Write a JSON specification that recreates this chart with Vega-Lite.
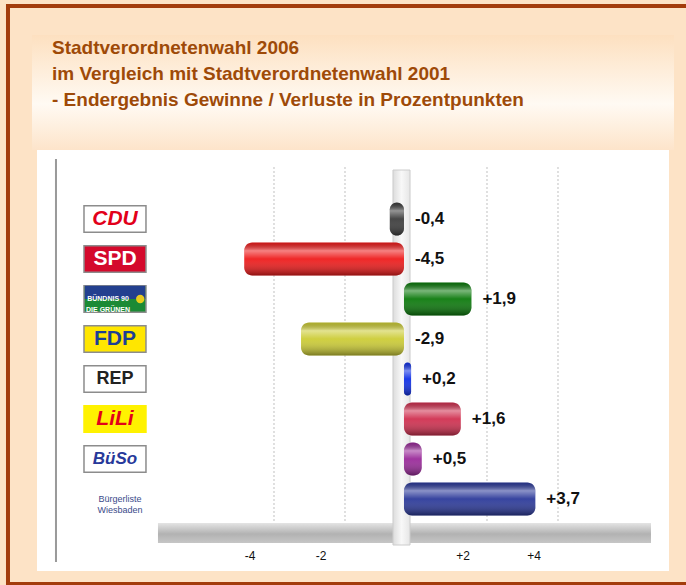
{
  "$schema": "https://vega.github.io/schema/vega-lite/v6.json",
  "width": 686,
  "height": 585,
  "autosize": {"type": "none"},
  "padding": 0,
  "background": "#fde3c6",
  "config": {
    "view": {"stroke": null},
    "font": "Liberation Sans",
    "axis": {"disable": true},
    "legend": {"disable": true}
  },
  "title": {
    "text": ["Stadtverordnetenwahl 2006", "im Vergleich mit Stadtverordnetenwahl 2001", "- Endergebnis Gewinne / Verluste in Prozentpunkten"],
    "anchor": "start",
    "frame": "group",
    "orient": "top",
    "offset": -110,
    "dx": 52,
    "fontSize": 19,
    "font": "Liberation Sans",
    "fontWeight": "bold",
    "color": "#9e4a08",
    "lineHeight": 26
  },
  "datasets": {
    "parties": [
      {"party": "CDU", "value": -0.4, "label": "-0,4", "logo": "CDU"},
      {"party": "SPD", "value": -4.5, "label": "-4,5", "logo": "SPD"},
      {"party": "GRÜNE", "value": 1.9, "label": "+1,9", "logo": "BÜNDNIS 90\nDIE GRÜNEN"},
      {"party": "FDP", "value": -2.9, "label": "-2,9", "logo": "FDP"},
      {"party": "REP", "value": 0.2, "label": "+0,2", "logo": "REP"},
      {"party": "LiLi", "value": 1.6, "label": "+1,6", "logo": "LiLi"},
      {"party": "BüSo", "value": 0.5, "label": "+0,5", "logo": "BüSo"},
      {"party": "Bürgerliste", "value": 3.7, "label": "+3,7", "logo": "Bürgerliste\nWiesbaden"}
    ],
    "ticks": [
      {"tick": -4, "label": "-4"},
      {"tick": -2, "label": "-2"},
      {"tick": 2, "label": "+2"},
      {"tick": 4, "label": "+4"}
    ]
  },
  "resolve": {"scale": {"y": "independent", "fill": "independent", "stroke": "independent", "color": "independent"}},
  "layer": [
    {
      "data": {"values": [{}]},
      "mark": {"type": "rect", "fill": null, "stroke": "#a33c0c", "strokeWidth": 4},
      "encoding": {
        "x": {"datum": -11.155, "type": "quantitative", "scale": {"domain": [-11.38, 7.944], "nice": false, "zero": false}},
        "x2": {"datum": 8.338},
        "y": {"datum": 6, "type": "quantitative", "scale": {"domain": [0, 585], "reverse": true, "nice": false, "zero": false}},
        "y2": {"datum": 584}
      }
    },
    {
      "data": {"values": [{}]},
      "mark": {"type": "rect", "fill": {"x1": 0, "y1": 0, "x2": 0, "y2": 1, "gradient": "linear", "stops": [{"offset": 0, "color": "#fde0c0"}, {"offset": 0.6, "color": "#fffaf3"}, {"offset": 1, "color": "#fde4ca"}]}},
      "encoding": {
        "x": {"datum": -10.479, "type": "quantitative", "scale": {"domain": [-11.38, 7.944], "nice": false, "zero": false}},
        "x2": {"datum": 7.606},
        "y": {"datum": 35, "type": "quantitative", "scale": {"domain": [0, 585], "reverse": true, "nice": false, "zero": false}},
        "y2": {"datum": 150}
      }
    },
    {
      "data": {"values": [{}]},
      "mark": {"type": "rect", "fill": "#ffffff"},
      "encoding": {
        "x": {"datum": -10.338, "type": "quantitative", "scale": {"domain": [-11.38, 7.944], "nice": false, "zero": false}},
        "x2": {"datum": 7.465},
        "y": {"datum": 150, "type": "quantitative", "scale": {"domain": [0, 585], "reverse": true, "nice": false, "zero": false}},
        "y2": {"datum": 571}
      }
    },
    {
      "data": {"values": [{}]},
      "mark": {"type": "rule", "stroke": "#9a9a9a", "strokeWidth": 2},
      "encoding": {
        "x": {"datum": -9.803, "type": "quantitative", "scale": {"domain": [-11.38, 7.944], "nice": false, "zero": false}},
        "y": {"datum": 159, "type": "quantitative", "scale": {"domain": [0, 585], "reverse": true, "nice": false, "zero": false}},
        "y2": {"datum": 562}
      }
    },
    {
      "data": {"name": "ticks"},
      "mark": {"type": "rule", "stroke": "#c0c0c0", "strokeWidth": 1, "strokeDash": [2, 2], "xOffset": 12},
      "encoding": {
        "x": {"field": "tick", "type": "quantitative", "scale": {"domain": [-11.38, 7.944], "nice": false, "zero": false}},
        "y": {"datum": 167, "type": "quantitative", "scale": {"domain": [0, 585], "reverse": true, "nice": false, "zero": false}},
        "y2": {"datum": 523}
      }
    },
    {
      "data": {"values": [{}]},
      "mark": {"type": "rect", "fill": {"x1": 0, "y1": 0, "x2": 0, "y2": 1, "gradient": "linear", "stops": [{"offset": 0, "color": "#e4e4e4"}, {"offset": 0.55, "color": "#b2b2b2"}, {"offset": 1, "color": "#c6c6c6"}]}},
      "encoding": {
        "x": {"datum": -6.93, "type": "quantitative", "scale": {"domain": [-11.38, 7.944], "nice": false, "zero": false}},
        "x2": {"datum": 6.958},
        "y": {"datum": 523, "type": "quantitative", "scale": {"domain": [0, 585], "reverse": true, "nice": false, "zero": false}},
        "y2": {"datum": 543}
      }
    },
    {
      "data": {"values": [{}]},
      "mark": {"type": "rect", "stroke": "#cccccc", "strokeWidth": 1, "fill": {"x1": 0, "y1": 0, "x2": 1, "y2": 0, "gradient": "linear", "stops": [{"offset": 0, "color": "#dcdcdc"}, {"offset": 0.5, "color": "#f8f8f8"}, {"offset": 1, "color": "#e6e6e6"}]}},
      "encoding": {
        "x": {"datum": -0.31, "type": "quantitative", "scale": {"domain": [-11.38, 7.944], "nice": false, "zero": false}},
        "x2": {"datum": 0.17},
        "y": {"datum": 170, "type": "quantitative", "scale": {"domain": [0, 585], "reverse": true, "nice": false, "zero": false}},
        "y2": {"datum": 545}
      }
    },
    {
      "data": {"name": "ticks"},
      "mark": {"type": "text", "fontSize": 12, "color": "#111111", "dx": -12, "baseline": "middle"},
      "encoding": {
        "x": {"field": "tick", "type": "quantitative", "scale": {"domain": [-11.38, 7.944], "nice": false, "zero": false}},
        "y": {"datum": 556, "type": "quantitative", "scale": {"domain": [0, 585], "reverse": true, "nice": false, "zero": false}},
        "text": {"field": "label"}
      }
    },
    {
      "data": {"name": "parties"},
      "mark": {"type": "bar", "orient": "horizontal", "cornerRadius": 8},
      "encoding": {
        "x": {"field": "value", "type": "quantitative", "scale": {"domain": [-11.38, 7.944], "nice": false, "zero": false}},
        "x2": {"datum": 0},
        "y": {"field": "party", "type": "nominal", "sort": null, "scale": {"type": "band", "domain": ["CDU", "SPD", "GRÜNE", "FDP", "REP", "LiLi", "BüSo", "Bürgerliste"], "range": [202.5, 515.5], "paddingInner": 0.175, "paddingOuter": 0}},
        "fill": {"field": "party", "type": "nominal", "scale": {"domain": ["CDU", "SPD", "GRÜNE", "FDP", "REP", "LiLi", "BüSo", "Bürgerliste"], "range": ["#3c3c3c", "#ee1c1c", "#0c7a0c", "#cccc36", "#1030e6", "#d03050", "#9a2a9a", "#2c3a9a"]}}
      }
    },
    {
      "data": {"name": "parties"},
      "mark": {"type": "bar", "orient": "horizontal", "cornerRadius": 8, "fill": {"x1": 0, "y1": 0, "x2": 0, "y2": 1, "gradient": "linear", "stops": [{"offset": 0, "color": "rgba(0,0,0,0.15)"}, {"offset": 0.25, "color": "rgba(255,255,255,0.45)"}, {"offset": 0.5, "color": "rgba(255,255,255,0.05)"}, {"offset": 1, "color": "rgba(0,0,0,0.4)"}]}},
      "encoding": {
        "x": {"field": "value", "type": "quantitative", "scale": {"domain": [-11.38, 7.944], "nice": false, "zero": false}},
        "x2": {"datum": 0},
        "y": {"field": "party", "type": "nominal", "sort": null, "scale": {"type": "band", "domain": ["CDU", "SPD", "GRÜNE", "FDP", "REP", "LiLi", "BüSo", "Bürgerliste"], "range": [202.5, 515.5], "paddingInner": 0.175, "paddingOuter": 0}}
      }
    },
    {
      "data": {"name": "parties"},
      "transform": [{"filter": "datum.value < 0"}],
      "mark": {"type": "text", "align": "left", "baseline": "middle", "dx": 11, "fontSize": 17, "fontWeight": "bold", "color": "#111111"},
      "encoding": {
        "x": {"datum": 0, "type": "quantitative", "scale": {"domain": [-11.38, 7.944], "nice": false, "zero": false}},
        "y": {"field": "party", "type": "nominal", "sort": null, "scale": {"type": "band", "domain": ["CDU", "SPD", "GRÜNE", "FDP", "REP", "LiLi", "BüSo", "Bürgerliste"], "range": [202.5, 515.5], "paddingInner": 0.175, "paddingOuter": 0}},
        "text": {"field": "label"}
      }
    },
    {
      "data": {"name": "parties"},
      "transform": [{"filter": "datum.value > 0"}],
      "mark": {"type": "text", "align": "left", "baseline": "middle", "dx": 11, "fontSize": 17, "fontWeight": "bold", "color": "#111111"},
      "encoding": {
        "x": {"field": "value", "type": "quantitative", "scale": {"domain": [-11.38, 7.944], "nice": false, "zero": false}},
        "y": {"field": "party", "type": "nominal", "sort": null, "scale": {"type": "band", "domain": ["CDU", "SPD", "GRÜNE", "FDP", "REP", "LiLi", "BüSo", "Bürgerliste"], "range": [202.5, 515.5], "paddingInner": 0.175, "paddingOuter": 0}},
        "text": {"field": "label"}
      }
    },
    {
      "data": {"name": "parties"},
      "mark": {"type": "bar", "orient": "horizontal", "height": {"band": 0.8}, "strokeWidth": 1.5},
      "encoding": {
        "x": {"datum": -9.014, "type": "quantitative", "scale": {"domain": [-11.38, 7.944], "nice": false, "zero": false}},
        "x2": {"datum": -7.268},
        "y": {"field": "party", "type": "nominal", "sort": null, "scale": {"type": "band", "domain": ["CDU", "SPD", "GRÜNE", "FDP", "REP", "LiLi", "BüSo", "Bürgerliste"], "range": [202.5, 515.5], "paddingInner": 0.175, "paddingOuter": 0}},
        "fill": {"field": "party", "type": "nominal", "scale": {"domain": ["CDU", "SPD", "GRÜNE", "FDP", "REP", "LiLi", "BüSo", "Bürgerliste"], "range": ["#ffffff", "#d4092c", "#1b8a35", "#ffe600", "#ffffff", "#fff200", "#ffffff", "#ffffff"]}},
        "stroke": {"field": "party", "type": "nominal", "scale": {"domain": ["CDU", "SPD", "GRÜNE", "FDP", "REP", "LiLi", "BüSo", "Bürgerliste"], "range": ["#8c8c8c", "#8c8c8c", "#8c8c8c", "#8c8c8c", "#8c8c8c", "#fff200", "#8c8c8c", "#ffffff"]}}
      }
    },
    {
      "data": {"name": "parties"},
      "transform": [{"filter": "datum.party == 'GRÜNE'"}],
      "mark": {"type": "bar", "orient": "horizontal", "height": {"band": 0.4}, "yOffset": -6.6, "fill": "#23408f"},
      "encoding": {
        "x": {"datum": -8.99, "type": "quantitative", "scale": {"domain": [-11.38, 7.944], "nice": false, "zero": false}},
        "x2": {"datum": -7.29},
        "y": {"field": "party", "type": "nominal", "sort": null, "scale": {"type": "band", "domain": ["CDU", "SPD", "GRÜNE", "FDP", "REP", "LiLi", "BüSo", "Bürgerliste"], "range": [202.5, 515.5], "paddingInner": 0.175, "paddingOuter": 0}}
      }
    },
    {
      "data": {"name": "parties"},
      "transform": [{"filter": "datum.party == 'GRÜNE'"}],
      "mark": {"type": "point", "shape": "circle", "filled": true, "size": 70, "color": "#f2d21a", "opacity": 0.95},
      "encoding": {
        "x": {"datum": -7.43, "type": "quantitative", "scale": {"domain": [-11.38, 7.944], "nice": false, "zero": false}},
        "y": {"field": "party", "type": "nominal", "sort": null, "scale": {"type": "band", "domain": ["CDU", "SPD", "GRÜNE", "FDP", "REP", "LiLi", "BüSo", "Bürgerliste"], "range": [202.5, 515.5], "paddingInner": 0.175, "paddingOuter": 0}}
      }
    },
    {
      "data": {"name": "parties"},
      "transform": [{"filter": "datum.party == 'SPD' || datum.party == 'FDP'"}],
      "mark": {"type": "text", "align": "center", "baseline": "middle", "fontWeight": "bold", "fontSize": 21},
      "encoding": {
        "x": {"datum": -8.141, "type": "quantitative", "scale": {"domain": [-11.38, 7.944], "nice": false, "zero": false}},
        "y": {"field": "party", "type": "nominal", "sort": null, "scale": {"type": "band", "domain": ["CDU", "SPD", "GRÜNE", "FDP", "REP", "LiLi", "BüSo", "Bürgerliste"], "range": [202.5, 515.5], "paddingInner": 0.175, "paddingOuter": 0}},
        "text": {"field": "logo"},
        "color": {"field": "party", "type": "nominal", "scale": {"domain": ["SPD", "FDP"], "range": ["#ffffff", "#1d3f95"]}}
      }
    },
    {
      "data": {"name": "parties"},
      "transform": [{"filter": "datum.party == 'REP'"}],
      "mark": {"type": "text", "align": "center", "baseline": "middle", "fontWeight": "bold", "fontSize": 18, "color": "#222222"},
      "encoding": {
        "x": {"datum": -8.141, "type": "quantitative", "scale": {"domain": [-11.38, 7.944], "nice": false, "zero": false}},
        "y": {"field": "party", "type": "nominal", "sort": null, "scale": {"type": "band", "domain": ["CDU", "SPD", "GRÜNE", "FDP", "REP", "LiLi", "BüSo", "Bürgerliste"], "range": [202.5, 515.5], "paddingInner": 0.175, "paddingOuter": 0}},
        "text": {"field": "logo"}
      }
    },
    {
      "data": {"name": "parties"},
      "transform": [{"filter": "datum.party == 'CDU' || datum.party == 'LiLi'"}],
      "mark": {"type": "text", "align": "center", "baseline": "middle", "fontWeight": "bold", "fontStyle": "italic", "fontSize": 21, "color": "#e2001a"},
      "encoding": {
        "x": {"datum": -8.141, "type": "quantitative", "scale": {"domain": [-11.38, 7.944], "nice": false, "zero": false}},
        "y": {"field": "party", "type": "nominal", "sort": null, "scale": {"type": "band", "domain": ["CDU", "SPD", "GRÜNE", "FDP", "REP", "LiLi", "BüSo", "Bürgerliste"], "range": [202.5, 515.5], "paddingInner": 0.175, "paddingOuter": 0}},
        "text": {"field": "logo"}
      }
    },
    {
      "data": {"name": "parties"},
      "transform": [{"filter": "datum.party == 'BüSo'"}],
      "mark": {"type": "text", "align": "center", "baseline": "middle", "fontWeight": "bold", "fontStyle": "italic", "fontSize": 17, "color": "#27399a"},
      "encoding": {
        "x": {"datum": -8.141, "type": "quantitative", "scale": {"domain": [-11.38, 7.944], "nice": false, "zero": false}},
        "y": {"field": "party", "type": "nominal", "sort": null, "scale": {"type": "band", "domain": ["CDU", "SPD", "GRÜNE", "FDP", "REP", "LiLi", "BüSo", "Bürgerliste"], "range": [202.5, 515.5], "paddingInner": 0.175, "paddingOuter": 0}},
        "text": {"field": "logo"}
      }
    },
    {
      "data": {"name": "parties"},
      "transform": [{"filter": "datum.party == 'GRÜNE'"}],
      "mark": {"type": "text", "align": "center", "baseline": "middle", "fontWeight": "bold", "fontSize": 7, "dx": -7, "color": "#ffffff", "lineBreak": "\n", "lineHeight": 11},
      "encoding": {
        "x": {"datum": -8.141, "type": "quantitative", "scale": {"domain": [-11.38, 7.944], "nice": false, "zero": false}},
        "y": {"field": "party", "type": "nominal", "sort": null, "scale": {"type": "band", "domain": ["CDU", "SPD", "GRÜNE", "FDP", "REP", "LiLi", "BüSo", "Bürgerliste"], "range": [202.5, 515.5], "paddingInner": 0.175, "paddingOuter": 0}},
        "text": {"field": "logo"}
      }
    },
    {
      "data": {"name": "parties"},
      "transform": [{"filter": "datum.party == 'Bürgerliste'"}],
      "mark": {"type": "text", "align": "center", "baseline": "middle", "fontSize": 9, "dx": 5, "color": "#3a4a8a", "lineBreak": "\n", "lineHeight": 11},
      "encoding": {
        "x": {"datum": -8.141, "type": "quantitative", "scale": {"domain": [-11.38, 7.944], "nice": false, "zero": false}},
        "y": {"field": "party", "type": "nominal", "sort": null, "scale": {"type": "band", "domain": ["CDU", "SPD", "GRÜNE", "FDP", "REP", "LiLi", "BüSo", "Bürgerliste"], "range": [202.5, 515.5], "paddingInner": 0.175, "paddingOuter": 0}},
        "text": {"field": "logo"}
      }
    }
  ]
}
